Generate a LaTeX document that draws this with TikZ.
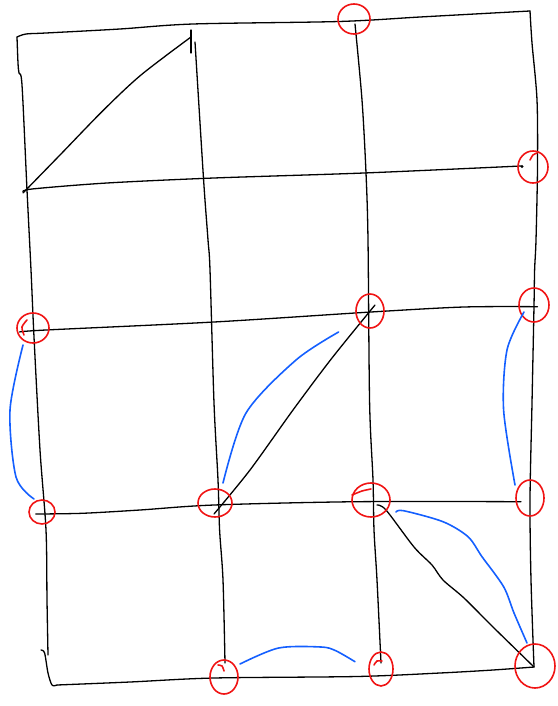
\documentclass[tikz,border=0pt]{standalone}
\definecolor{penred}{RGB}{240,20,20}
\definecolor{penblue}{RGB}{20,95,255}
\tikzset{
  ink/.style={black,line width=1.3pt,line cap=round,line join=round},
  redloop/.style={penred,line width=1.6pt,line cap=round},
  blueline/.style={penblue,line width=1.6pt,line cap=round,line join=round}
}
\begin{document}
\begin{tikzpicture}[x=1pt,y=-1pt]
\useasboundingbox (0,0) rectangle (557,706);
% outer frame
\draw[ink] plot[smooth] coordinates {(17,37) (26,34) (46,33) (120,29) (193,24) (339,21.5) (420,17) (493,13) (530,11)};
\draw[ink] plot[smooth] coordinates {(17,37) (18,63) (19,73) (22,85) (27,190) (31,270) (34,337) (40,450) (46,530) (47,600) (48,655)};
\draw[ink] plot[smooth] coordinates {(41,650) (44.6,653) (48,673) (52,685) (57,685)};
\draw[ink] plot[smooth] coordinates {(57,685) (130,682) (214,678) (357,676.5) (440,673) (493,670) (534,667)};
\draw[ink] plot[smooth] coordinates {(530,11) (532,43) (537,100) (537.5,167) (536,240) (534.6,270) (534,306) (532,403) (530,500) (531,580) (534,667)};
% inner verticals
\draw[ink] (191,30) -- (191,53);
\draw[ink] plot[smooth] coordinates {(195,42) (203.6,180) (208,240) (210,270) (214,403) (218,480) (219.6,530) (223,580) (225,663)};
\draw[ink] plot[smooth] coordinates {(355,24) (362,100) (366,173) (368,240) (369.6,403) (373,480) (374,530) (377,580) (381,663)};
% horizontals
\draw[ink] plot[smooth] coordinates {(23,192) (32,189) (107,183) (214,178) (364,173) (521,166)};
\fill (522,166.5) circle[radius=1.6pt];
\draw[ink] plot[smooth] coordinates {(19.6,332) (46,330) (214,322) (371,312) (464,307) (537.5,306.7)};
\draw[ink] plot[smooth] coordinates {(35.7,514) (82,513.3) (140,510) (214,505) (357,501.7) (521,501.7)};
% diagonals
\draw[ink] plot[smooth] coordinates {(23,193) (60,155) (103.6,110) (141,75) (191,37)};
\draw[ink] plot[smooth] coordinates {(214,514) (250,470) (293,410) (332,358) (375,305)};
\draw[ink] plot[smooth] coordinates {(377,505) (386,510) (414,547) (432,565) (443,580) (464,598) (493,627) (534,667)};
% red loops
\coordinate (r1) at (354,19);
\coordinate (r2) at (533,167);
\coordinate (r3) at (33,328);
\coordinate (r4) at (370,311);
\coordinate (r5) at (534,305);
\coordinate (r6) at (42,512);
\coordinate (r7) at (215,503);
\coordinate (r8) at (371,500);
\coordinate (r9) at (530,498);
\coordinate (r10) at (224,677);
\coordinate (r11) at (381,669);
\coordinate (r12) at (535,666);
\draw[redloop] (r1) ellipse[x radius=16,y radius=15];
\draw[redloop] (r2) ellipse[x radius=15,y radius=16];
\draw[redloop] (r3) ellipse[x radius=16,y radius=15];
\draw[redloop] (r4) ellipse[x radius=14,y radius=17];
\draw[redloop] (r5) ellipse[x radius=15,y radius=17];
\draw[redloop] (r6) ellipse[x radius=13,y radius=12];
\draw[redloop] (r7) ellipse[x radius=17,y radius=14];
\draw[redloop] (r8) ellipse[x radius=19,y radius=17];
\draw[redloop] (r9) ellipse[x radius=14,y radius=18];
\draw[redloop] (r10) ellipse[x radius=14,y radius=17];
\draw[redloop] (r11) ellipse[x radius=12,y radius=17];
\draw[redloop] (r12) ellipse[x radius=20,y radius=22];
% small hooks where each loop starts
\draw[redloop] plot[smooth] coordinates {(24,335) (22,327) (27,320)};
\draw[redloop] plot[smooth] coordinates {(352,495) (362,491) (371,489)};
\draw[redloop] plot[smooth] coordinates {(218,665) (222,666) (224,671)};
\draw[redloop] plot[smooth] coordinates {(374,665) (377,661) (382,661)};
\draw[redloop] plot[smooth] coordinates {(530,160) (533,155) (537,153)};
% blue strokes
\draw[blueline] plot[smooth] coordinates {(34,499) (16,477) (10,410) (23,345)};
\draw[blueline] plot[smooth] coordinates {(223,483) (246,413) (296,360) (338.6,332)};
\draw[blueline] plot[smooth] coordinates {(515,485) (503.6,410) (507,350) (524,312)};
\draw[blueline] plot[smooth] coordinates {(396,512) (403.6,510.7) (443,521.7) (468,536.7) (482,556.7) (503.6,586.7) (514,613) (527,643)};
\draw[blueline] plot[smooth] coordinates {(240,664) (278.6,648) (321,647) (335.7,650.7) (355,661.7)};
\end{tikzpicture}
\end{document}
